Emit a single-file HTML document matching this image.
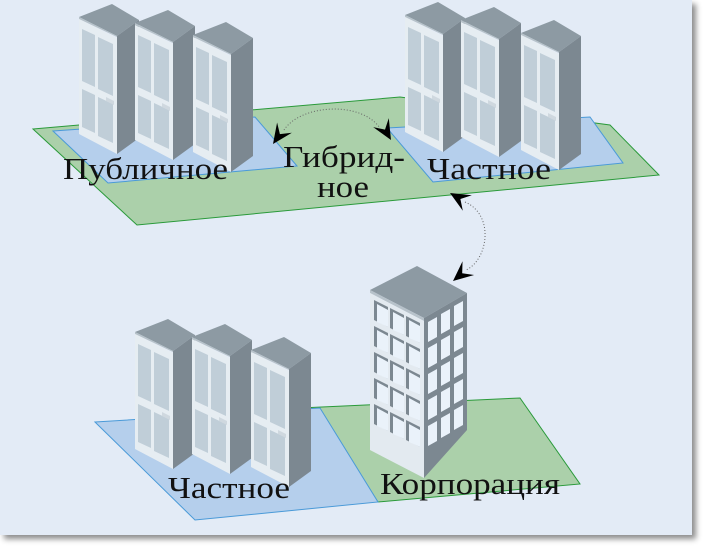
<!DOCTYPE html>
<html><head><meta charset="utf-8"><style>
html,body{margin:0;padding:0;background:#fff;}
svg{display:block;}
text{font-family:"Liberation Serif","DejaVu Serif",serif;fill:#111;}
</style></head><body>
<svg width="703" height="550" viewBox="0 0 703 550" xmlns="http://www.w3.org/2000/svg">
<defs>
<filter id="sh" x="-5%" y="-5%" width="110%" height="110%"><feDropShadow dx="4" dy="4" stdDeviation="3" flood-color="#000" flood-opacity="0.45"/></filter>
<g id="rack">
  <polygon points="0,0 33,-13 60,3 38,19" fill="#8d9aa3"/>
  <polygon points="0,0 38,19 38,20 0,2" fill="#b7c2ca"/>
  <polygon points="0,2 38,21 38,137 0,117" fill="#e6edf2"/>
  <polygon points="38,19 60,3 60,121 38,137" fill="#7c8891"/>
  <polygon points="3,12 16,18 16,70 3,64" fill="#c0ced8"/>
  <polygon points="19,20 34,27 34,79 19,72" fill="#c0ced8"/>
  <polygon points="3,72 16,78 16,116 3,110" fill="#c0ced8"/>
  <polygon points="19,80 34,87 34,126 19,119" fill="#c0ced8"/>
  <polygon points="27,80 35,84 35,88 27,84" fill="#cfd8df"/>
</g>
<g id="arrowhead"><polygon points="0,0 -20,-9 -12,0 -20,9" fill="#000"/></g>
</defs>
<rect x="0" y="0" width="692" height="535" fill="#e3ebf6" filter="url(#sh)"/>

<!-- top platforms -->
<polygon points="33,129 400,97 610,125 659,175 137,225" fill="#abd0aa" stroke="#2a9a3a" stroke-width="1"/>
<polygon points="53,131 255,117 297,166 108,183" fill="#b5cfec" stroke="#4a9ad8" stroke-width="1"/>
<polygon points="387,128 590,117 623,163 433,182" fill="#b5cfec" stroke="#4a9ad8" stroke-width="1"/>

<!-- top racks -->
<use href="#rack" x="79" y="17"/>
<use href="#rack" x="135" y="23"/>
<use href="#rack" x="193" y="35"/>
<use href="#rack" x="405" y="15"/>
<use href="#rack" x="461" y="20"/>
<use href="#rack" x="521" y="33"/>

<!-- bottom platforms -->
<polygon points="300,408 520,398 580,484 378,502" fill="#abd0aa" stroke="#2a9a3a" stroke-width="1"/>
<polygon points="95,422 320,408 378,502 195,520" fill="#b5cfec" stroke="#4a9ad8" stroke-width="1"/>

<use href="#rack" x="135" y="332"/>
<use href="#rack" x="192" y="337"/>
<use href="#rack" x="251" y="350"/>

<!-- building -->
<polygon points="370,290 417,266 467,293 424,318" fill="#8d9aa3"/>
<polygon points="370,290 424,318 424,321 370,293" fill="#b7c2ca"/>
<polygon points="370,293 424,321 424,478 370,450" fill="#e3eaf0"/>
<polygon points="424,318 467,293 467,430 424,478" fill="#7c8891"/>
<g>
  <g id="frow">
   <polygon points="374,300 388,307 388,327 374,320" fill="#7c8891"/>
   <polygon points="377,304 388,310 388,327 377,322" fill="#eaf2fa"/>
   <polygon points="390,308 404,315 404,335 390,328" fill="#7c8891"/>
   <polygon points="393,312 404,318 404,335 393,330" fill="#eaf2fa"/>
   <polygon points="406,316 420,323 420,343 406,336" fill="#7c8891"/>
   <polygon points="409,320 420,326 420,343 409,338" fill="#eaf2fa"/>
  </g>
  <use href="#frow" y="26"/><use href="#frow" y="52"/><use href="#frow" y="78"/><use href="#frow" y="104"/>
</g>
<g fill="#eaf2fa">
  <g id="srow">
   <polygon points="428,322 437,317 437,337 428,342"/>
   <polygon points="441,314 450,309 450,329 441,334"/>
   <polygon points="454,306 463,301 463,321 454,326"/>
  </g>
  <use href="#srow" y="26"/><use href="#srow" y="52"/><use href="#srow" y="78"/><use href="#srow" y="104"/>
</g>

<!-- connectors -->
<path d="M284,130 C300,105 360,100 380,128" fill="none" stroke="#666" stroke-width="1" stroke-dasharray="1,2"/>
<use href="#arrowhead" transform="translate(273,144) rotate(125)"/>
<use href="#arrowhead" transform="translate(391,140) rotate(60)"/>
<path d="M465,202 C495,215 488,260 466,270" fill="none" stroke="#666" stroke-width="1" stroke-dasharray="1,2"/>
<use href="#arrowhead" transform="translate(450,193) rotate(-150)"/>
<use href="#arrowhead" transform="translate(453,281) rotate(140)"/>

<!-- labels -->
<text x="63" y="179" font-size="31" textLength="165" lengthAdjust="spacingAndGlyphs">Публичное</text>
<text x="283" y="167" font-size="31" textLength="122" lengthAdjust="spacingAndGlyphs">Гибрид-</text>
<text x="317" y="197" font-size="31" textLength="52" lengthAdjust="spacingAndGlyphs">ное</text>
<text x="427" y="179" font-size="31" textLength="124" lengthAdjust="spacingAndGlyphs">Частное</text>
<text x="168" y="498" font-size="31" textLength="122" lengthAdjust="spacingAndGlyphs">Частное</text>
<text x="380" y="494" font-size="31" textLength="180" lengthAdjust="spacingAndGlyphs">Корпорация</text>
</svg>
</body></html>
